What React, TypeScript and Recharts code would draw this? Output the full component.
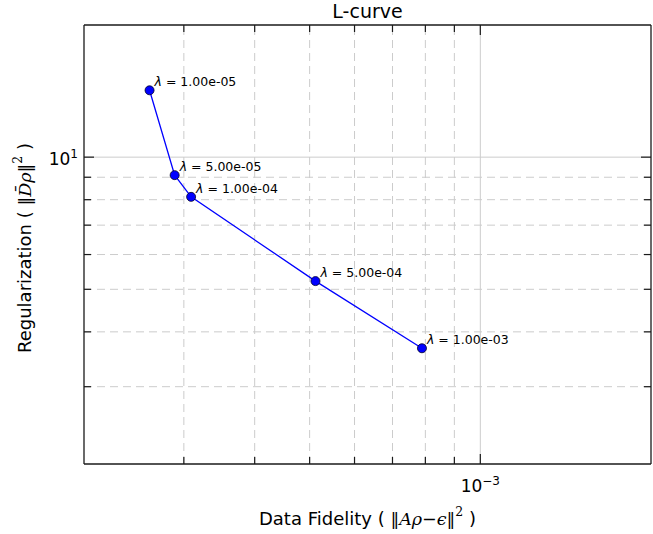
import React from "react";
import { ComposedChart, Line, XAxis, YAxis, ReferenceLine, LabelList } from "recharts";

// ---- data ----
const lambdaLabels = ["1.00e-05", "5.00e-05", "1.00e-04", "5.00e-04", "1.00e-03"];
const dataFidelity = [2.61e-4, 2.89e-4, 3.09e-4, 5.12e-4, 7.89e-4];
const regularization = [14.2, 9.1, 8.12, 5.22, 3.67];
const xTicks = [3e-4, 4e-4, 5e-4, 6e-4, 7e-4, 8e-4, 9e-4, 1e-3];
const yTicks = [3, 4, 5, 6, 7, 8, 9, 10];
const xDomain: [number, number] = [2e-4, 2e-3];
const yDomain: [number, number] = [2, 20];

const data = dataFidelity.map((x, i) => ({ x, y: regularization[i], lambda: lambdaLabels[i] }));

// ---- style ----
const FONT = "DejaVu Sans";
const MATH = "DejaVu Serif";
const AXIS = "#1a1a1a";
const GRID = "#cccccc";
const W = 653;
const H = 534;
const M = { top: 24, right: 1, bottom: 0, left: 0 };
const YW = 84;
const XH = 70;

const isMajor = (v: number) => Math.abs(Math.log10(v) - Math.round(Math.log10(v))) < 1e-9;
const expLabel = (v: number) => {
  const e = Math.round(Math.log10(v));
  return e < 0 ? "\u2212" + -e : String(e);
};

const BottomTick = (p: any) => {
  const { x, y, payload } = p;
  const v = payload.value;
  const major = isMajor(v);
  return (
    <g>
      <line x1={x} x2={x} y1={y} y2={y - (major ? 10 : 7)} stroke={AXIS} strokeWidth={1.2} />
      {major && (
        <text x={x} y={y + 28} textAnchor="middle" fontSize={17} fill="#000" fontFamily={FONT}>
          10<tspan dy={-7} fontSize={12}>{expLabel(v)}</tspan>
        </text>
      )}
    </g>
  );
};

const TopTick = (p: any) => {
  const { x, y, payload } = p;
  const major = isMajor(payload.value);
  return <line x1={x} x2={x} y1={y} y2={y + (major ? 10 : 7)} stroke={AXIS} strokeWidth={1.2} />;
};

const LeftTick = (p: any) => {
  const { x, y, payload } = p;
  const v = payload.value;
  const major = isMajor(v);
  return (
    <g>
      <line x1={x} x2={x + (major ? 10 : 7)} y1={y} y2={y} stroke={AXIS} strokeWidth={1.2} />
      {major && (
        <text x={x - 6} y={y + 8} textAnchor="end" fontSize={17} fill="#000" fontFamily={FONT}>
          10<tspan dy={-7} fontSize={12}>{expLabel(v)}</tspan>
        </text>
      )}
    </g>
  );
};

const RightTick = (p: any) => {
  const { x, y, payload } = p;
  const major = isMajor(payload.value);
  return <line x1={x} x2={x - (major ? 10 : 7)} y1={y} y2={y} stroke={AXIS} strokeWidth={1.2} />;
};

const plotLeft = M.left + YW;
const plotRight = W - M.right - 1;
const cx = (plotLeft + plotRight) / 2;

const TitleLabel = () => (
  <text x={cx} y={18} textAnchor="middle" fontSize={19} fill="#000" fontFamily={FONT}>
    L-curve
  </text>
);

const XLabel = () => (
  <text x={cx} y={525} textAnchor="middle" fontSize={18} fill="#000" fontFamily={FONT}>
    {"Data Fidelity ( "}
    <tspan fontFamily={MATH} fontSize={17.5}>{"\u2016"}</tspan>
    <tspan fontFamily={MATH} fontStyle="italic" fontSize={17.5}>A{"\u03C1"}</tspan>
    <tspan fontFamily={MATH} fontSize={17.5}>{"\u2212"}</tspan>
    <tspan fontFamily={MATH} fontStyle="italic" fontSize={17.5}>{"\u03F5"}</tspan>
    <tspan fontFamily={MATH} fontSize={17.5}>{"\u2016"}</tspan>
    <tspan dy={-9} fontSize={12.5} fontFamily={MATH}>2</tspan>
    <tspan dy={9}>{" )"}</tspan>
  </text>
);

const YLabel = () => {
  const x = 31;
  const y = 248;
  return (
    <text x={x} y={y} transform={`rotate(-90, ${x}, ${y})`} textAnchor="middle" fontSize={18} fill="#000" fontFamily={FONT}>
      {"Regularization ( "}
      <tspan fontFamily={MATH} fontSize={17.5}>{"\u2016"}</tspan>
      <tspan fontFamily={MATH} fontStyle="italic" fontSize={17.5}>{"D\u0304\u03C1"}</tspan>
      <tspan fontFamily={MATH} fontSize={17.5}>{"\u2016"}</tspan>
      <tspan dy={-9} fontSize={12.5} fontFamily={MATH}>2</tspan>
      <tspan dy={9}>{" )"}</tspan>
    </text>
  );
};

const PointLabel = (p: any) => {
  const { x, y, value } = p;
  return (
    <text x={x + 5} y={y - 4} fontSize={12.5} fill="#000" fontFamily={FONT}>
      <tspan fontStyle="italic">{"\u03BB"}</tspan>
      {" = " + value}
    </text>
  );
};

export default function App() {
  return (
    <div style={{ position: "absolute", left: 0, top: 0, width: W, height: H, background: "#fff" }}>
      <ComposedChart width={W} height={H} data={data} margin={M}>
        <XAxis
          dataKey="x"
          type="number"
          scale="log"
          domain={xDomain}
          allowDataOverflow
          ticks={xTicks}
          interval={0}
          tick={<BottomTick />}
          tickSize={0}
          tickMargin={0}
          tickLine={false}
          height={XH}
          axisLine={{ stroke: AXIS, strokeWidth: 1.3 }}
          label={XLabel}
        />
        <XAxis
          xAxisId="top"
          orientation="top"
          dataKey="x"
          type="number"
          scale="log"
          domain={xDomain}
          allowDataOverflow
          ticks={xTicks}
          interval={0}
          tick={<TopTick />}
          tickSize={0}
          tickMargin={0}
          tickLine={false}
          height={1}
          axisLine={{ stroke: AXIS, strokeWidth: 1.3 }}
          label={TitleLabel}
        />
        <YAxis
          dataKey="y"
          type="number"
          scale="log"
          domain={yDomain}
          allowDataOverflow
          ticks={yTicks}
          interval={0}
          tick={<LeftTick />}
          tickSize={0}
          tickMargin={0}
          tickLine={false}
          width={YW}
          axisLine={{ stroke: AXIS, strokeWidth: 1.3 }}
          label={YLabel}
        />
        <YAxis
          yAxisId="right"
          orientation="right"
          dataKey="y"
          type="number"
          scale="log"
          domain={yDomain}
          allowDataOverflow
          ticks={yTicks}
          interval={0}
          tick={<RightTick />}
          tickSize={0}
          tickMargin={0}
          tickLine={false}
          width={1}
          axisLine={{ stroke: AXIS, strokeWidth: 1.3 }}
        />
        {xTicks.map((v) => (
          <ReferenceLine
            key={"gx" + v}
            x={v}
            stroke={GRID}
            strokeWidth={1}
            strokeDasharray={isMajor(v) ? undefined : "8 5"}
          />
        ))}
        {yTicks.map((v) => (
          <ReferenceLine
            key={"gy" + v}
            y={v}
            stroke={GRID}
            strokeWidth={1}
            strokeDasharray={isMajor(v) ? undefined : "8 5"}
          />
        ))}
        <Line
          dataKey="y"
          stroke="#0000ff"
          strokeWidth={1.3}
          dot={{ r: 4.5, fill: "#0000ff", stroke: "#000022", strokeWidth: 0.8 }}
          activeDot={false}
          isAnimationActive={false}
        >
          <LabelList dataKey="lambda" content={<PointLabel />} />
        </Line>
      </ComposedChart>
    </div>
  );
}
